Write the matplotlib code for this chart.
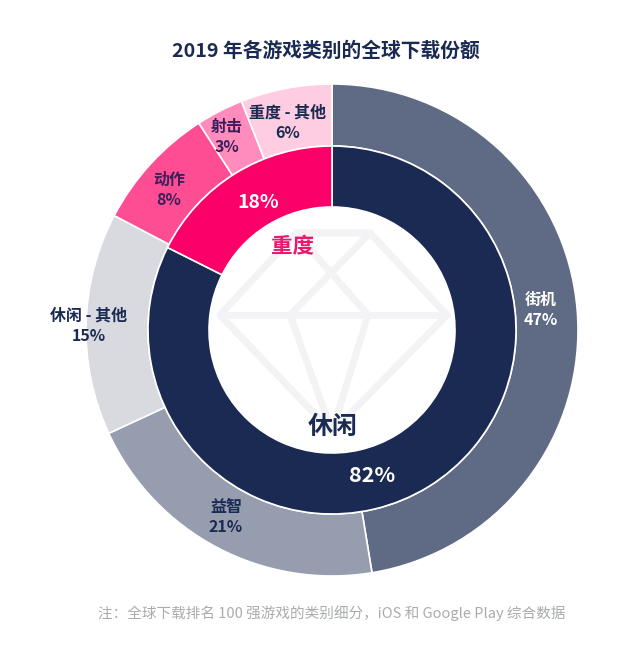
import matplotlib
matplotlib.use('Agg')
from matplotlib import pyplot as plt

plt.rcParams['font.family'] = ['Noto Sans CJK SC', 'DejaVu Sans']

# outer ring, clockwise from the top (shares, labels round them)
outer_labels = ['街机', '益智', '休闲 - 其他', '动作', '射击', '重度 - 其他']
outer_values = [47.4, 20.7, 14.6, 8.2, 3.1, 6.0]
outer_colors = ['#5f6a85', '#969dae', '#d9dae0', '#ff4d93', '#ff8cbc', '#ffcde2']

# inner ring
inner_labels = ['休闲', '重度']
inner_values = [82.4, 17.6]
inner_colors = ['#1a2a52', '#fb0068']

title = '2019 年各游戏类别的全球下载份额'
note = '注：全球下载排名 100 强游戏的类别细分，iOS 和 Google Play 综合数据'

W, H = 640, 656
navy = '#1a2a52'

fig = plt.figure(figsize=(W / 100, H / 100), dpi=100)
ax = fig.add_axes([0, 0, 1, 1])
ax.set_xlim(0, W)
ax.set_ylim(H, 0)
ax.axis('off')

cx, cy = 332, 330
# y axis is flipped, so counterclock=True comes out clockwise on screen
ax.pie(outer_values, colors=outer_colors, center=(cx, cy), radius=246,
       startangle=-90, counterclock=True, frame=False,
       wedgeprops=dict(width=62, edgecolor='white', linewidth=1.2))
ax.pie(inner_values, colors=inner_colors, center=(cx, cy), radius=184,
       startangle=-90, counterclock=True, frame=False,
       wedgeprops=dict(width=61, edgecolor='white', linewidth=1.2))
ax.set_xlim(0, W)
ax.set_ylim(H, 0)
ax.set_aspect('equal')

# diamond watermark in the hole
wm = dict(color='#f3f3f6', lw=5, zorder=1, solid_capstyle='round', solid_joinstyle='round')
ax.plot([296, 370, 447, 332, 220, 296], [233, 233, 315, 432, 315, 233], **wm)
ax.plot([220, 447], [315, 315], **wm)
ax.plot([296, 368], [233, 315], **wm)
ax.plot([370, 290], [233, 315], **wm)
ax.plot([290, 332, 368], [315, 432, 315], **wm)

ax.text(326, 51, title, ha='center', va='center', fontsize=14.2, fontweight='bold', color=navy)
ax.text(332, 613, note, ha='center', va='center', fontsize=10.5, color='#a9abb0')

# wedge labels
outer_pos = [(541, 310), (226, 517), (89, 326), (169, 190), (227, 137), (288, 123)]
outer_text = ['#ffffff', navy, navy, '#3a1f5c', '#3a1f5c', navy]
for name, val, (x, y), c in zip(outer_labels, outer_values, outer_pos, outer_text):
    ax.text(x, y, f'{name}\n{val:.0f}%', ha='center', va='center', fontsize=11.5,
            fontweight='bold', color=c, linespacing=1.3)

ax.text(372, 476, f'{inner_values[0]:.0f}%', ha='center', va='center', fontsize=15.5, fontweight='bold', color='white')
ax.text(258, 202, f'{inner_values[1]:.0f}%', ha='center', va='center', fontsize=14, fontweight='bold', color='white')
ax.text(333, 427, inner_labels[0], ha='center', va='center', fontsize=18, fontweight='bold', color=navy)
ax.text(293, 247, inner_labels[1], ha='center', va='center', fontsize=15.5, fontweight='bold', color='#e8196f')

fig.savefig('out.png', dpi=100, facecolor='white')
